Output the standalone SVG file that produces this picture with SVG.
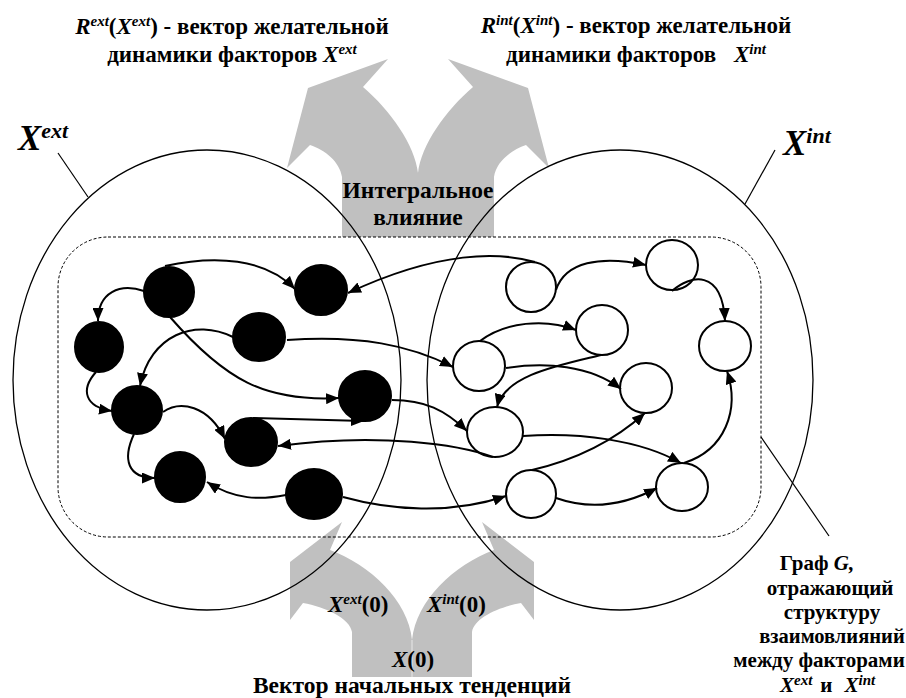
<svg xmlns="http://www.w3.org/2000/svg" width="906" height="698" viewBox="0 0 906 698">
<defs>
<marker id="ah" markerUnits="userSpaceOnUse" markerWidth="14" markerHeight="11" refX="13" refY="5.5" orient="auto">
<path d="M0,0 L13,5.5 L0,11 Z" fill="#000"/>
</marker>
<style>
.t{font-family:"Liberation Serif",serif;font-weight:bold;fill:#000}
.i{font-style:italic}
.gray{fill:#c0c0c0;stroke:none}
.set{fill:none;stroke:#000;stroke-width:1.3}
.lead{stroke:#000;stroke-width:1.2;fill:none}
.blk{fill:#000;stroke:#000;stroke-width:2}
.wht{fill:#fff;stroke:#000;stroke-width:2}
.e{fill:none;stroke:#000;stroke-width:2;marker-end:url(#ah)}
</style>
</defs>
<rect width="906" height="698" fill="#fff"/>

<g id="flows">
<path class="gray" d="M342,237 L342,177 C340,162 325,150 310,145 L287,168 L308,88 L388,59 L363,87 C390,110 415,145 418,173 L418,237 Z"/>
<path class="gray" d="M494,237 L494,177 C496,162 511,150 526,145 L549,168 L528,88 L448,59 L473,87 C446,110 421,145 418,173 L418,237 Z"/>
<path class="gray" d="M352,677 L352,632 C350,618 325,607 303,603 L290,620 L290,562 L342,522 L330,550 C370,565 408,600 412,640 L412,677 Z"/>
<path class="gray" d="M472,677 L472,632 C474,618 499,607 521,603 L534,620 L534,562 L482,522 L494,550 C454,565 416,600 412,640 L412,677 Z"/>
<line x1="412" y1="640" x2="412" y2="677" stroke="#e8e8e8" stroke-width="1"/>
</g>

<g id="sets">
<ellipse class="set" cx="207" cy="380" rx="194" ry="230"/>
<ellipse class="set" cx="620" cy="380" rx="193" ry="230"/>
<rect x="58" y="237" width="703" height="300" rx="50" ry="50" fill="none" stroke="#000" stroke-width="1" stroke-dasharray="3,2"/>
<line class="lead" x1="58" y1="153" x2="88" y2="197"/>
<line class="lead" x1="775" y1="150" x2="745" y2="204"/>
<line class="lead" x1="761" y1="437" x2="829" y2="536"/>
</g>

<g id="nodes">
<g id="b1"><ellipse class="blk" cx="169" cy="292" rx="25" ry="25"/></g>
<g id="b2"><ellipse class="blk" cx="321" cy="290" rx="26" ry="25"/></g>
<g id="b3"><ellipse class="blk" cx="99" cy="347" rx="24" ry="25"/></g>
<g id="b4"><ellipse class="blk" cx="259" cy="337" rx="26" ry="24"/></g>
<g id="b5"><ellipse class="blk" cx="365" cy="396" rx="26" ry="25"/></g>
<g id="b6"><ellipse class="blk" cx="137" cy="410" rx="25" ry="24"/></g>
<g id="b7"><ellipse class="blk" cx="251" cy="442" rx="26" ry="24"/></g>
<g id="b8"><ellipse class="blk" cx="180" cy="477" rx="25" ry="25"/></g>
<g id="b9"><ellipse class="blk" cx="314" cy="494" rx="28" ry="25"/></g>
<g id="w1"><ellipse class="wht" cx="531" cy="287" rx="25" ry="25"/></g>
<g id="w2"><ellipse class="wht" cx="672" cy="265" rx="26" ry="25"/></g>
<g id="w3"><ellipse class="wht" cx="602" cy="330" rx="26" ry="25"/></g>
<g id="w4"><ellipse class="wht" cx="725" cy="346" rx="26" ry="25"/></g>
<g id="w5"><ellipse class="wht" cx="479" cy="366" rx="26" ry="25"/></g>
<g id="w6"><ellipse class="wht" cx="646" cy="388" rx="26" ry="25"/></g>
<g id="w7"><ellipse class="wht" cx="495" cy="432" rx="28" ry="25"/></g>
<g id="w8"><ellipse class="wht" cx="531" cy="494" rx="25" ry="24"/></g>
<g id="w9"><ellipse class="wht" cx="682" cy="487" rx="26" ry="24"/></g>
</g>

<g id="connectors">
<path class="e" d="M165,266 C215,255 265,258 295,289"/>
<path class="e" d="M144,291 C120,283 98,292 98,321"/>
<path class="e" d="M170,317 C225,380 265,402 339,398"/>
<path class="e" d="M233,337 C195,318 150,335 140,386"/>
<path class="e" d="M287,340 C360,335 410,345 453,367"/>
<path class="e" d="M96,372 C80,390 85,407 112,411"/>
<path class="e" d="M163,412 C180,400 208,405 225,439"/>
<path class="e" d="M134,434 C122,460 128,478 155,478"/>
<path class="e" d="M286,495 C260,500 235,500 207,482"/>
<path class="e" d="M253,418 L364,421"/>
<path class="e" d="M493,457 C460,445 380,432 278,446"/>
<path class="e" d="M535,262 C500,252 440,250 348,293"/>
<path class="e" d="M392,400 C425,400 445,410 467,431"/>
<path class="e" d="M343,497 C390,510 450,515 506,496"/>
<path class="e" d="M556,290 C565,262 600,255 646,265"/>
<path class="e" d="M672,291 C690,275 722,268 725,321"/>
<path class="e" d="M480,341 C505,322 545,318 576,330"/>
<path class="e" d="M601,355 C560,365 505,375 497,407"/>
<path class="e" d="M506,368 C545,362 590,365 621,389"/>
<path class="e" d="M523,436 C580,432 640,440 681,463"/>
<path class="e" d="M532,470 C575,460 615,440 645,413"/>
<path class="e" d="M556,498 C590,510 625,505 657,488"/>
<path class="e" d="M684,463 C725,450 740,410 727,371"/>
</g>

<g id="labels">
<text class="t" x="232" y="34" text-anchor="middle" font-size="23"><tspan class="i">R</tspan><tspan class="i" font-size="15" dy="-8">ext</tspan><tspan dy="8">(</tspan><tspan class="i">X</tspan><tspan class="i" font-size="15" dy="-8">ext</tspan><tspan dy="8">) - вектор желательной</tspan></text>
<text class="t" x="232" y="62" text-anchor="middle" font-size="23">динамики факторов <tspan class="i">X</tspan><tspan class="i" font-size="15" dy="-8">ext</tspan></text>
<text class="t" x="636" y="33" text-anchor="middle" font-size="23"><tspan class="i">R</tspan><tspan class="i" font-size="15" dy="-8">int</tspan><tspan dy="8">(</tspan><tspan class="i">X</tspan><tspan class="i" font-size="15" dy="-8">int</tspan><tspan dy="8">) - вектор желательной</tspan></text>
<text class="t" x="636" y="62" text-anchor="middle" font-size="23">динамики факторов <tspan class="i" dx="12">X</tspan><tspan class="i" font-size="15" dy="-8">int</tspan></text>
<text class="t i" x="18" y="150" font-size="35">X<tspan font-size="22" dy="-12">ext</tspan></text>
<text class="t i" x="783" y="155" font-size="35">X<tspan font-size="22" dy="-12">int</tspan></text>
<text class="t" x="418" y="198" text-anchor="middle" font-size="23.5">Интегральное</text>
<text class="t" x="418" y="225" text-anchor="middle" font-size="23.5">влияние</text>
<text class="t" x="328" y="612" font-size="23"><tspan class="i">X</tspan><tspan class="i" font-size="15" dy="-8">ext</tspan><tspan dy="8">(0)</tspan></text>
<text class="t" x="427" y="612" font-size="23"><tspan class="i">X</tspan><tspan class="i" font-size="15" dy="-8">int</tspan><tspan dy="8">(0)</tspan></text>
<text class="t" x="392" y="667" font-size="23"><tspan class="i">X</tspan>(0)</text>
<text class="t" x="412" y="693" text-anchor="middle" font-size="23.5">Вектор начальных тенденций</text>
<text class="t" x="817" y="570" text-anchor="middle" font-size="21">Граф <tspan class="i">G,</tspan></text>
<text class="t" x="830" y="595" text-anchor="middle" font-size="21">отражающий</text>
<text class="t" x="832" y="619" text-anchor="middle" font-size="21">структуру</text>
<text class="t" x="832" y="643" text-anchor="middle" font-size="20.5">взаимовлияний</text>
<text class="t" x="819" y="667" text-anchor="middle" font-size="21">между факторами</text>
<text class="t" x="780" y="692" font-size="21"><tspan class="i">X</tspan><tspan class="i" font-size="15" dy="-7">ext</tspan><tspan dy="7" dx="8">и</tspan><tspan class="i" dx="12">X</tspan><tspan class="i" font-size="15" dy="-7">int</tspan></text>
</g>
</svg>
